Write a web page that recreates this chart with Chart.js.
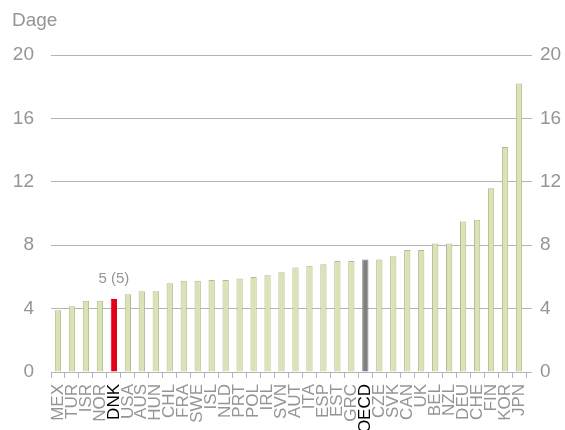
<!DOCTYPE html>
<html lang="da">
<head>
    <meta charset="UTF-8">
    <title>Dage</title>
    <style>
        body { margin: 0; background: #ffffff; }
        .chart-box { width: 565px; height: 430px; position: relative; }
    </style>
</head>
<body>
    <div class="chart-box">
        <canvas id="barChart"></canvas>
    </div>

    <script src="https://cdn.jsdelivr.net/npm/chart.js"></script>
    <script>
        // Data
        const countries = ['MEX', 'TUR', 'ISR', 'NOR', 'DNK', 'USA', 'AUS', 'HUN', 'CHL', 'FRA', 'SWE', 'ISL',
            'NLD', 'PRT', 'POL', 'IRL', 'SVN', 'AUT', 'ITA', 'ESP', 'EST', 'GRC', 'OECD', 'CZE', 'SVK', 'CAN',
            'UK', 'BEL', 'NZL', 'DEU', 'CHE', 'FIN', 'KOR', 'JPN'];
        const days = [3.9, 4.15, 4.5, 4.5, 4.6, 4.9, 5.1, 5.1, 5.6, 5.75, 5.75, 5.8,
            5.8, 5.9, 6.0, 6.1, 6.3, 6.6, 6.7, 6.8, 7.0, 7.0, 7.1, 7.1, 7.3, 7.7,
            7.7, 8.1, 8.1, 9.5, 9.6, 11.6, 14.2, 18.2];
        const yTicks = [0, 4, 8, 12, 16, 20];
        const dnkNote = '5 (5)';

        const grey = '#959595';
        const barFill = countries.map(c => c === 'DNK' ? '#e3001b' : c === 'OECD' ? '#7f7f7f' : '#d9e3b4');
        const barEdge = countries.map(c => c === 'DNK' ? '#e3001b' : c === 'OECD' ? '#7f7f7f' : '#b3ba93');

        // draws the "Dage" unit and the note above DNK
        const extraText = {
            id: 'extraText',
            afterDraw(chart) {
                const ctx = chart.ctx;
                const x = chart.scales.x;
                const y = chart.scales.y;
                const i = countries.indexOf('DNK');
                ctx.save();
                ctx.fillStyle = grey;
                ctx.font = '19px "Liberation Sans", Arial, sans-serif';
                ctx.textAlign = 'left';
                ctx.textBaseline = 'middle';
                ctx.fillText('Dage', 12, 21);
                ctx.font = '15px "Liberation Sans", Arial, sans-serif';
                ctx.textAlign = 'center';
                ctx.textBaseline = 'bottom';
                ctx.fillText(dnkNote, x.getPixelForValue(i), y.getPixelForValue(days[i]) - 13);
                ctx.restore();
            }
        };

        const tickFont = { family: '"Liberation Sans", Arial, sans-serif', size: 19 };

        new Chart(document.getElementById('barChart'), {
            type: 'bar',
            data: {
                labels: countries,
                datasets: [{
                    data: days,
                    backgroundColor: barFill,
                    borderColor: barEdge,
                    borderWidth: 1,
                    categoryPercentage: 1,
                    barPercentage: 0.45
                }]
            },
            options: {
                responsive: true,
                maintainAspectRatio: false,
                animation: false,
                layout: { padding: { top: 55, left: 0, right: 0, bottom: 0 } },
                plugins: { legend: { display: false }, tooltip: { enabled: false } },
                scales: {
                    x: {
                        offset: true,
                        afterFit: axis => { axis.height = 58; },
                        border: { display: true, color: '#b4b4b4' },
                        grid: { offset: true, drawOnChartArea: false, tickLength: 6, color: '#b4b4b4' },
                        ticks: {
                            autoSkip: false,
                            maxRotation: 90,
                            minRotation: 90,
                            padding: 6,
                            font: { family: '"Liberation Sans", Arial, sans-serif', size: 17 },
                            color: ctx => (countries[ctx.index] === 'DNK' || countries[ctx.index] === 'OECD') ? '#000000' : grey
                        }
                    },
                    y: {
                        position: 'left',
                        min: 0,
                        max: 20,
                        afterBuildTicks: axis => { axis.ticks = yTicks.map(v => ({ value: v })); },
                        afterFit: axis => { axis.width = 51; },
                        border: { display: false },
                        grid: { color: '#b4b4b4', drawTicks: false },
                        ticks: { font: tickFont, color: grey, padding: 17 }
                    },
                    y2: {
                        position: 'right',
                        min: 0,
                        max: 20,
                        afterBuildTicks: axis => { axis.ticks = yTicks.map(v => ({ value: v })); },
                        afterFit: axis => { axis.width = 39; },
                        border: { display: false },
                        grid: { drawOnChartArea: false, tickLength: 6, color: '#b4b4b4' },
                        ticks: { font: tickFont, color: grey, padding: 8 }
                    }
                }
            },
            plugins: [extraText]
        });
    </script>
</body>
</html>
